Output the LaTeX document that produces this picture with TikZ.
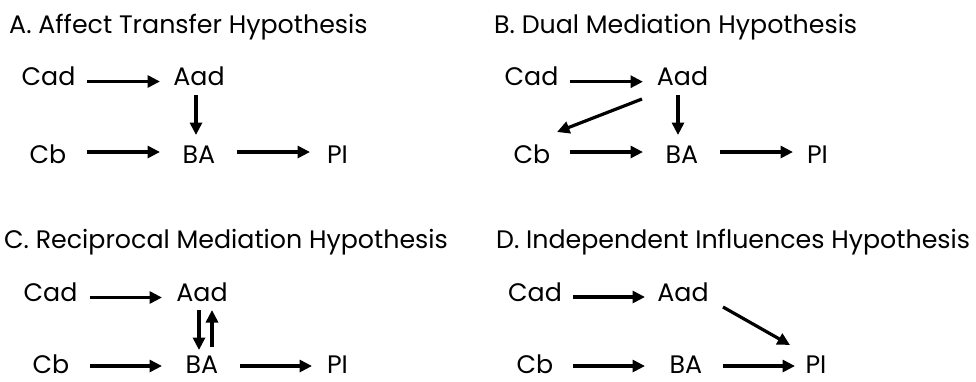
\documentclass[tikz,border=0pt]{standalone}
\usepackage{fontspec}
\setmainfont{Poppins}
\usetikzlibrary{arrows.meta,calc}
\tikzset{
  lbl/.style={inner sep=0pt,anchor=base,font=\fontsize{25.3}{30}\selectfont},
  ttl/.style={inner sep=0pt,anchor=base west,font=\fontsize{25.3}{30}\selectfont},
  arr/.style={line width=3.2pt,-{Triangle[length=12.5pt,width=12pt]}}
}
\begin{document}
\begin{tikzpicture}[x=1pt,y=-1pt]
\useasboundingbox (0,0) rectangle (976,381);

% ---- A. Affect Transfer Hypothesis
\node[ttl] (tA) at (9,33) {A. Affect Transfer Hypothesis};
\node[lbl] (aCad) at (48.5,85) {Cad};
\node[lbl] (aAad) at (199,85) {Aad};
\node[lbl] (aCb) at (48,163) {Cb};
\node[lbl] (aBA) at (199,163) {BA};
\node[lbl] (aPI) at (337.5,163) {PI};
\draw[arr] ($(aCad.base)+(38.5,-3.5)$) -- ($(aAad.base)+(-39,-3.5)$);
\draw[arr] ($(aAad.base)+(-3,10)$) -- ($(aBA.base)+(-3,-28)$);
\draw[arr] ($(aCb.base)+(39,-11)$) -- ($(aBA.base)+(-39,-11)$);
\draw[arr] ($(aBA.base)+(38,-11)$) -- ($(aPI.base)+(-27.5,-11)$);

% ---- B. Dual Mediation Hypothesis
\node[ttl] (tB) at (494,33) {B. Dual Mediation Hypothesis};
\node[lbl] (bCad) at (531.5,85) {Cad};
\node[lbl] (bAad) at (682.5,85) {Aad};
\node[lbl] (bCb) at (532,163) {Cb};
\node[lbl] (bBA) at (682,163) {BA};
\node[lbl] (bPI) at (817.5,163) {PI};
\draw[arr] ($(bCad.base)+(38.5,-3.3)$) -- ($(bAad.base)+(-39.5,-3.3)$);
\draw[arr] ($(bAad.base)+(-4.5,10)$) -- ($(bBA.base)+(-4,-28)$);
\draw[arr] ($(bAad.base)+(-40.5,14)$) -- ($(bCb.base)+(25,-31)$);
\draw[arr] ($(bCb.base)+(38,-11)$) -- ($(bBA.base)+(-39,-11)$);
\draw[arr] ($(bBA.base)+(38,-11)$) -- ($(bPI.base)+(-24.5,-11)$);

% ---- C. Reciprocal Mediation Hypothesis
\node[ttl] (tC) at (4,248) {C. Reciprocal Mediation Hypothesis};
\node[lbl] (cCad) at (50.5,301.5) {Cad};
\node[lbl] (cAad) at (202,301.5) {Aad};
\node[lbl] (cCb) at (51,373) {Cb};
\node[lbl] (cBA) at (202,373) {BA};
\node[lbl] (cPI) at (337.5,373) {PI};
\draw[arr] ($(cCad.base)+(39.5,-4)$) -- ($(cAad.base)+(-40,-4)$);
\draw[arr] ($(cAad.base)+(-3,8.5)$) -- ($(cBA.base)+(-3,-23)$);
\draw[arr] ($(cBA.base)+(10,-26)$) -- ($(cAad.base)+(10,8.5)$);
\draw[arr] ($(cCb.base)+(39,-7)$) -- ($(cBA.base)+(-40,-7)$);
\draw[arr] ($(cBA.base)+(38,-7)$) -- ($(cPI.base)+(-25.5,-7)$);

% ---- D. Independent Influences Hypothesis
\node[ttl] (tD) at (496,248) {D. Independent Influences Hypothesis};
\node[lbl] (dCad) at (535,301.5) {Cad};
\node[lbl] (dAad) at (683,301.5) {Aad};
\node[lbl] (dCb) at (535,373) {Cb};
\node[lbl] (dBA) at (686,373) {BA};
\node[lbl] (dPI) at (816,373) {PI};
\draw[arr] ($(dCad.base)+(38,-4.5)$) -- ($(dAad.base)+(-38,-4.5)$);
\draw[arr] ($(dAad.base)+(40,5.5)$) -- ($(dPI.base)+(-26,-28)$);
\draw[arr] ($(dCb.base)+(38,-7)$) -- ($(dBA.base)+(-41,-7)$);
\draw[arr] ($(dBA.base)+(37,-7)$) -- ($(dPI.base)+(-21,-7)$);
\end{tikzpicture}
\end{document}
